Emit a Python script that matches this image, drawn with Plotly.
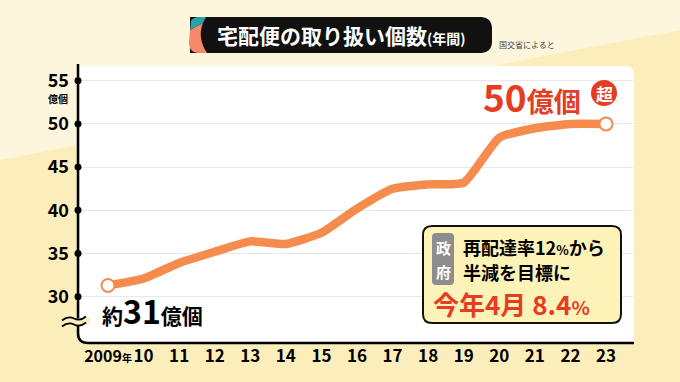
import plotly.graph_objects as go

years = list(range(2009, 2024))
values = [31.3, 32.1, 33.9, 35.2, 36.4, 36.1, 37.4, 40.2, 42.5, 43.0, 43.2, 48.4, 49.5, 50.0, 50.0]
x_labels = ["<span style='font-size:16px'>2009</span><span style='font-size:10px'>年</span>", "10", "11", "12",
            "13", "14", "15", "16", "17", "18", "19", "20", "21", "22", "23"]
y_ticks = [30, 35, 40, 45, 50, 55]
y_labels = ["30", "35", "40", "45", "50", "55"]

W, H = 680, 382
FONT = "Noto Sans CJK JP"
X_RANGE = [2008.213, 2023.787]
Y_RANGE = [24.64, 56.70]
PX_L, PX_R, PX_T, PX_B = 80, 634, 66, 343


def px(x):
    return x / W


def py(y):
    return 1 - y / H


fig = go.Figure()

# main line
fig.add_trace(go.Scatter(
    x=years, y=values, mode="lines",
    line=dict(color="#f58b4c", width=8.5, shape="spline", smoothing=0.5),
    hoverinfo="skip", cliponaxis=False,
))
# end markers
fig.add_trace(go.Scatter(
    x=[years[0], years[-1]], y=[values[0], values[-1]], mode="markers",
    marker=dict(size=13, color="white", line=dict(color="#f58b4c", width=2)),
    hoverinfo="skip", cliponaxis=False,
))

shapes = []
# background light band
shapes.append(dict(type="path", xref="paper", yref="paper", layer="below",
                   path=f"M {px(0)},{py(0)} L {px(680)},{py(0)} L {px(680)},{py(30)} L {px(0)},{py(160)} Z",
                   fillcolor="#fdf6dc", line=dict(width=0)))
# white panel with rounded top-right corner
r = 8
shapes.append(dict(type="path", xref="paper", yref="paper", layer="below",
                   path=(f"M {px(PX_L)},{py(PX_T)} L {px(PX_R - r)},{py(PX_T)} "
                         f"Q {px(PX_R)},{py(PX_T)} {px(PX_R)},{py(PX_T + r)} "
                         f"L {px(PX_R)},{py(PX_B)} L {px(PX_L)},{py(PX_B)} Z"),
                   fillcolor="white", line=dict(width=0)))
# axis L with rounded corner
shapes.append(dict(type="path", xref="paper", yref="paper", layer="above",
                   path=(f"M {px(78)},{py(64)} L {px(78)},{py(333)} "
                         f"Q {px(78)},{py(343)} {px(88)},{py(343)} L {px(PX_R)},{py(343)}"),
                   line=dict(color="black", width=2.5)))
# tick dots on the y axis, placed at the tick values through the y scale
for v in y_ticks:
    shapes.append(dict(type="circle", xref="paper", yref="y", layer="above",
                       x0=px(74.5), x1=px(81.5), y0=v - 0.4, y1=v + 0.4,
                       fillcolor="black", line=dict(width=0)))
# break mark: background gap then two waves
shapes.append(dict(type="path", xref="paper", yref="paper", layer="above",
                   path=(f"M {px(66)},{py(320)} L {px(90)},{py(317)} L {px(90)},{py(324)} "
                         f"L {px(66)},{py(327)} Z"),
                   fillcolor="#fbeec0", line=dict(width=0)))
for yy in (318.5, 324.5):
    shapes.append(dict(type="path", xref="paper", yref="paper", layer="above",
                       path=(f"M {px(62)},{py(yy + 2)} Q {px(68)},{py(yy - 3)} {px(74)},{py(yy)} "
                             f"T {px(86)},{py(yy - 2)}"),
                       line=dict(color="black", width=1.8)))
# title box
shapes.append(dict(type="rect", xref="paper", yref="paper", layer="above",
                   x0=px(190), x1=px(482), y0=py(17), y1=py(53),
                   fillcolor="#111111", line=dict(width=0)))
shapes.append(dict(type="path", xref="paper", yref="paper", layer="above",
                   path=(f"M {px(480)},{py(17)} Q {px(492)},{py(17)} {px(492)},{py(29)} "
                         f"L {px(492)},{py(41)} Q {px(492)},{py(53)} {px(480)},{py(53)} Z"),
                   fillcolor="#111111", line=dict(width=0)))
shapes.append(dict(type="path", xref="paper", yref="paper", layer="above",
                   path=(f"M {px(190)},{py(30)} L {px(203)},{py(23)} Q {px(197)},{py(38)} {px(207)},{py(53)} "
                         f"L {px(199)},{py(53)} Q {px(189)},{py(53)} {px(189)},{py(42)} Z"),
                   fillcolor="#f5896a", line=dict(width=0)))
shapes.append(dict(type="path", xref="paper", yref="paper", layer="above",
                   path=(f"M {px(191)},{py(21)} Q {px(193)},{py(17)} {px(200)},{py(17)} L {px(206)},{py(17)} "
                         f"L {px(203)},{py(23)} L {px(190)},{py(30)} Z"),
                   fillcolor="#2aa0a8", line=dict(width=0)))
# 超 circle
shapes.append(dict(type="circle", xref="paper", yref="paper", layer="above",
                   x0=px(591), x1=px(617), y0=py(80), y1=py(106),
                   fillcolor="#e53c24", line=dict(width=0)))
# note box
bx0, bx1, by0, by1, br = 423, 621, 226, 323, 9
shapes.append(dict(type="path", xref="paper", yref="paper", layer="above",
                   path=(f"M {px(bx0 + br)},{py(by0)} L {px(bx1 - br)},{py(by0)} "
                         f"Q {px(bx1)},{py(by0)} {px(bx1)},{py(by0 + br)} L {px(bx1)},{py(by1 - br)} "
                         f"Q {px(bx1)},{py(by1)} {px(bx1 - br)},{py(by1)} L {px(bx0 + br)},{py(by1)} "
                         f"Q {px(bx0)},{py(by1)} {px(bx0)},{py(by1 - br)} L {px(bx0)},{py(by0 + br)} "
                         f"Q {px(bx0)},{py(by0)} {px(bx0 + br)},{py(by0)} Z"),
                   fillcolor="#fdf2b7", line=dict(color="#111111", width=2)))
gx0, gx1, gy0, gy1, gr = 432, 454, 233, 285, 4
shapes.append(dict(type="path", xref="paper", yref="paper", layer="above",
                   path=(f"M {px(gx0 + gr)},{py(gy0)} L {px(gx1 - gr)},{py(gy0)} "
                         f"Q {px(gx1)},{py(gy0)} {px(gx1)},{py(gy0 + gr)} L {px(gx1)},{py(gy1 - gr)} "
                         f"Q {px(gx1)},{py(gy1)} {px(gx1 - gr)},{py(gy1)} L {px(gx0 + gr)},{py(gy1)} "
                         f"Q {px(gx0)},{py(gy1)} {px(gx0)},{py(gy1 - gr)} L {px(gx0)},{py(gy0 + gr)} "
                         f"Q {px(gx0)},{py(gy0)} {px(gx0 + gr)},{py(gy0)} Z"),
                   fillcolor="#8d8d8d", line=dict(width=0)))

ann = []


def add(text, x, y, size, color="black", xanchor="center", yanchor="middle"):
    ann.append(dict(text=text, x=px(x), y=py(y), xref="paper", yref="paper",
                    showarrow=False, xanchor=xanchor, yanchor=yanchor,
                    font=dict(family=FONT, size=size, color=color, weight="bold")))


add("宅配便の取り扱い個数<span style='font-size:14px'>(年間)</span>", 215, 35.5, 21, "white", xanchor="left")
ann.append(dict(text="国交省によると", x=px(497), y=py(45), xref="paper", yref="paper",
                showarrow=False, xanchor="left", yanchor="middle",
                font=dict(family=FONT, size=8, color="#444444")))
add("億個", 70, 98, 10, xanchor="right")
add("50<span style='font-size:27px'>億個</span>", 532, 96, 37, "#e53c24")
add("超", 604, 93, 17, "white")
add("約<span style='font-size:32px'>31</span>億個", 100, 310, 21, xanchor="left")
add("政", 443, 247, 15, "white")
add("府", 443, 271, 15, "white")
add("再配達率12<span style='font-size:13px'>%</span>から", 461, 247, 18, xanchor="left")
add("半減を目標に", 461, 272, 18, xanchor="left")
add("今年4月 8.4<span style='font-size:19px'>%</span>", 431, 303, 26, "#e53c24", xanchor="left")

fig.update_layout(
    width=W, height=H, margin=dict(l=0, r=0, t=0, b=0, autoexpand=False),
    paper_bgcolor="#fbeebb", plot_bgcolor="rgba(0,0,0,0)",
    showlegend=False, shapes=shapes, annotations=ann,
    font=dict(family=FONT, color="black"),
    xaxis=dict(domain=[px(PX_L), px(PX_R)], range=X_RANGE, tickvals=years, ticktext=x_labels,
               showgrid=False, zeroline=False, showline=False, ticks="", tickangle=0,
               automargin=False,
               tickfont=dict(family=FONT, size=17, color="black", weight="bold"),
               ticklabelstandoff=1, fixedrange=True),
    yaxis=dict(domain=[py(PX_B), py(PX_T)], range=Y_RANGE, tickvals=y_ticks, ticktext=y_labels,
               showgrid=True, gridcolor="#e8e8e8", gridwidth=1, zeroline=False, showline=False,
               automargin=False,
               ticks="", tickfont=dict(family=FONT, size=18, color="black", weight="bold"),
               ticklabelstandoff=10, fixedrange=True),
)

fig.write_html("out.html", config={"displayModeBar": False},
               post_script="document.body.style.margin='0';document.body.style.padding='0';")
